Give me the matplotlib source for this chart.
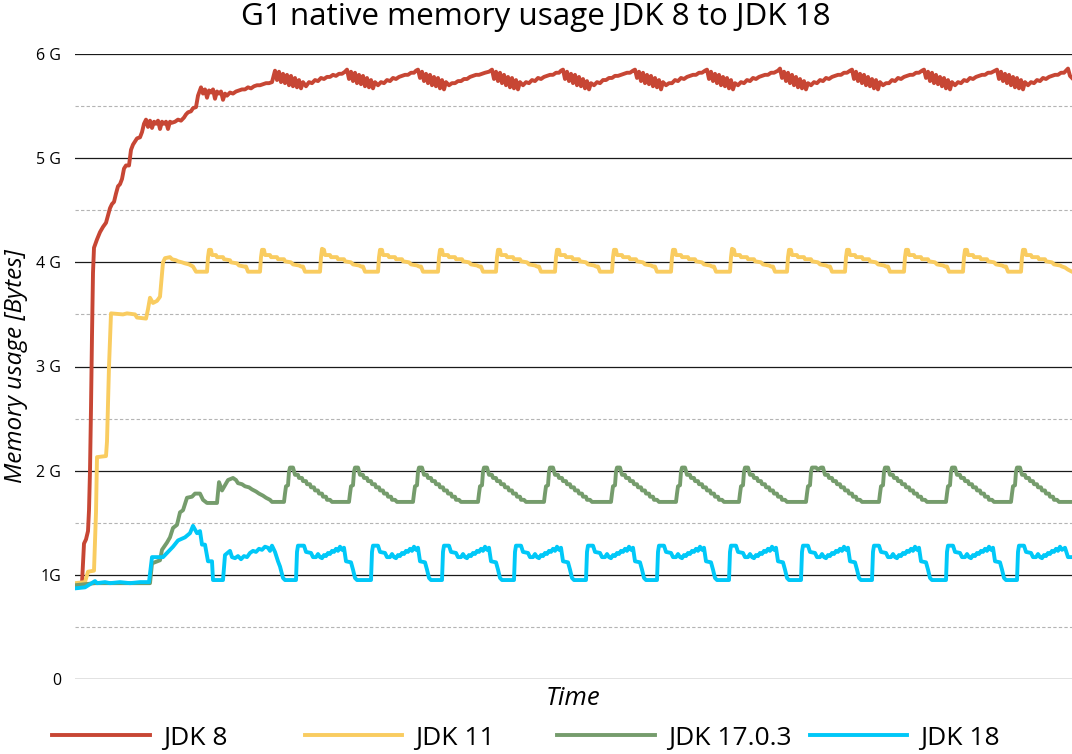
import matplotlib
matplotlib.use('Agg')
import numpy as np
import matplotlib.pyplot as plt
from matplotlib.ticker import MultipleLocator

plt.rcParams['font.family'] = ['Open Sans', 'DejaVu Sans']

# time axis is in arbitrary sample units, memory in GB
jdk8 = [
    (0, 0.91), (7, 0.92), (9, 1.30), (11, 1.34), (13, 1.42), (14, 1.62), (15, 2.00), (16, 2.60),
    (17, 3.30), (18, 3.90), (19, 4.14), (22, 4.22), (25, 4.29), (28, 4.34), (31, 4.38), (33, 4.45),
    (35, 4.52), (37, 4.56), (39, 4.58), (41, 4.66), (43, 4.73), (45, 4.75), (47, 4.80), (49, 4.90),
    (51, 4.93), (54, 4.93), (56, 5.08), (58, 5.13), (60, 5.16), (62, 5.19), (65, 5.20), (67, 5.25),
    (69, 5.33), (71, 5.37), (73, 5.30), (75, 5.36), (77, 5.29), (79, 5.35), (81, 5.33), (83, 5.36),
    (85, 5.28), (87, 5.35), (89, 5.33), (91, 5.35), (93, 5.28), (95, 5.35), (97, 5.34), (100, 5.35),
    (103, 5.37), (106, 5.36), (109, 5.39), (111, 5.42), (113, 5.44), (116, 5.45), (118, 5.48),
    (121, 5.49), (123, 5.60), (126, 5.68), (128, 5.62), (130, 5.66), (132, 5.58), (134, 5.65),
    (136, 5.63), (138, 5.66), (140, 5.57), (142, 5.64), (144, 5.62), (146, 5.64), (148, 5.56),
    (150, 5.62), (152, 5.60), (155, 5.63), (158, 5.62), (161, 5.64), (164, 5.65), (167, 5.66),
    (170, 5.66), (173, 5.68), (176, 5.67), (179, 5.69), (182, 5.70), (185, 5.70), (188, 5.71),
    (191, 5.72), (194, 5.72), (197, 5.73),
    (200, 5.84), (202, 5.75), (204, 5.83), (206, 5.73), (208, 5.81), (210, 5.72), (212, 5.80), (214, 5.70),
    (216, 5.79), (218, 5.69), (220, 5.77), (222, 5.68), (224, 5.75), (226, 5.67), (228, 5.73), (231, 5.69),
    (234, 5.73), (237, 5.72), (240, 5.75), (243, 5.74), (246, 5.77), (249, 5.76), (252, 5.78), (255, 5.78),
    (258, 5.80), (261, 5.79), (264, 5.81), (267, 5.81), (270, 5.83),
    (272, 5.85), (274, 5.76), (276, 5.83), (278, 5.74), (280, 5.82), (282, 5.72), (284, 5.80), (286, 5.71),
    (288, 5.79), (290, 5.69), (292, 5.77), (294, 5.68), (296, 5.75), (298, 5.67), (300, 5.73), (303, 5.70),
    (306, 5.73), (309, 5.72), (312, 5.75), (315, 5.74), (318, 5.77), (321, 5.76), (324, 5.78), (327, 5.79),
    (330, 5.80), (333, 5.80), (336, 5.82), (339, 5.82), (341, 5.84),
    (343, 5.85), (345, 5.77), (347, 5.83), (349, 5.74), (351, 5.81), (353, 5.72), (355, 5.80), (357, 5.70),
    (359, 5.78), (361, 5.69), (363, 5.77), (365, 5.67), (367, 5.75), (369, 5.66), (371, 5.73), (374, 5.70),
    (377, 5.72), (380, 5.72), (383, 5.74), (386, 5.74), (389, 5.76), (392, 5.76), (395, 5.78), (398, 5.79),
    (401, 5.80), (404, 5.80), (407, 5.81), (410, 5.82), (414, 5.83),
    (417, 5.85), (419, 5.76), (421, 5.83), (423, 5.74), (425, 5.82), (427, 5.72), (429, 5.80), (431, 5.70),
    (433, 5.78), (435, 5.68), (437, 5.77), (439, 5.67), (441, 5.75), (443, 5.66), (445, 5.73), (448, 5.70),
    (451, 5.73), (454, 5.72), (457, 5.75), (460, 5.74), (463, 5.77), (466, 5.76), (469, 5.78), (472, 5.79),
    (475, 5.80), (478, 5.80), (481, 5.82), (484, 5.82), (486, 5.84),
    (488, 5.85), (490, 5.76), (492, 5.83), (494, 5.74), (496, 5.81), (498, 5.72), (500, 5.80), (502, 5.70),
    (504, 5.78), (506, 5.69), (508, 5.76), (510, 5.67), (512, 5.74), (514, 5.66), (516, 5.72), (519, 5.70),
    (522, 5.73), (525, 5.72), (528, 5.75), (531, 5.75), (534, 5.77), (537, 5.77), (540, 5.79), (543, 5.79),
    (546, 5.80), (549, 5.81), (552, 5.82), (555, 5.82), (558, 5.84),
    (560, 5.85), (562, 5.77), (564, 5.83), (566, 5.74), (568, 5.82), (570, 5.72), (572, 5.80), (574, 5.71),
    (576, 5.79), (578, 5.69), (580, 5.77), (582, 5.68), (584, 5.75), (586, 5.66), (588, 5.73), (591, 5.70),
    (594, 5.72), (597, 5.72), (600, 5.75), (603, 5.74), (606, 5.77), (609, 5.76), (612, 5.78), (615, 5.79),
    (618, 5.80), (621, 5.80), (624, 5.82), (627, 5.82), (630, 5.84),
    (632, 5.85), (634, 5.76), (636, 5.83), (638, 5.74), (640, 5.81), (642, 5.72), (644, 5.80), (646, 5.70),
    (648, 5.78), (650, 5.69), (652, 5.77), (654, 5.67), (656, 5.75), (658, 5.66), (660, 5.72), (663, 5.70),
    (666, 5.73), (669, 5.72), (672, 5.75), (675, 5.74), (678, 5.77), (681, 5.76), (684, 5.78), (687, 5.79),
    (690, 5.80), (693, 5.80), (696, 5.82), (699, 5.82), (703, 5.84),
    (705, 5.86), (707, 5.77), (709, 5.83), (711, 5.74), (713, 5.82), (715, 5.72), (717, 5.80), (719, 5.70),
    (721, 5.78), (723, 5.68), (725, 5.76), (727, 5.67), (729, 5.74), (731, 5.66), (733, 5.72), (736, 5.70),
    (739, 5.73), (742, 5.72), (745, 5.75), (748, 5.74), (751, 5.77), (754, 5.76), (757, 5.78), (760, 5.79),
    (763, 5.80), (766, 5.80), (769, 5.82), (772, 5.82), (775, 5.84),
    (777, 5.85), (779, 5.76), (781, 5.83), (783, 5.74), (785, 5.81), (787, 5.72), (789, 5.80), (791, 5.70),
    (793, 5.78), (795, 5.69), (797, 5.76), (799, 5.67), (801, 5.75), (803, 5.66), (805, 5.73), (808, 5.70),
    (811, 5.72), (814, 5.72), (817, 5.75), (820, 5.74), (823, 5.77), (826, 5.76), (829, 5.78), (832, 5.79),
    (835, 5.80), (838, 5.80), (841, 5.82), (844, 5.82), (847, 5.84),
    (849, 5.85), (851, 5.77), (853, 5.83), (855, 5.74), (857, 5.82), (859, 5.72), (861, 5.80), (863, 5.71),
    (865, 5.78), (867, 5.69), (869, 5.77), (871, 5.67), (873, 5.75), (875, 5.66), (877, 5.73), (880, 5.70),
    (883, 5.73), (886, 5.72), (889, 5.75), (892, 5.74), (895, 5.77), (898, 5.76), (901, 5.78), (904, 5.79),
    (907, 5.80), (910, 5.80), (913, 5.82), (916, 5.82), (920, 5.84),
    (922, 5.85), (924, 5.76), (926, 5.83), (928, 5.74), (930, 5.81), (932, 5.72), (934, 5.80), (936, 5.70),
    (938, 5.78), (940, 5.68), (942, 5.77), (944, 5.67), (946, 5.75), (948, 5.66), (950, 5.73), (953, 5.70),
    (956, 5.73), (959, 5.72), (962, 5.75), (965, 5.74), (968, 5.77), (971, 5.76), (974, 5.78), (977, 5.79),
    (980, 5.80), (983, 5.80), (986, 5.82), (989, 5.82), (991, 5.84),
    (993, 5.86), (995, 5.79), (997, 5.77),
]

jdk11 = [
    (0, 0.92), (10, 0.93), (13, 1.03), (19, 1.04), (21, 1.60), (22, 2.13), (31, 2.14), (32, 2.28),
    (34, 3.00), (36, 3.51), (48, 3.50), (52, 3.51), (60, 3.50), (62, 3.47), (71, 3.46), (73, 3.55),
    (75, 3.66), (78, 3.61), (82, 3.63), (85, 3.67), (88, 4.00), (90, 4.04), (95, 4.05), (97, 4.03),
    (101, 4.02), (103, 4.01), (107, 4.00), (110, 3.99), (114, 3.98), (118, 3.96), (121, 3.91), (132, 3.91),
    (133, 4.05), (134, 4.12), (136, 4.12), (137, 4.07), (141, 4.07), (142, 4.05), (148, 4.05), (149, 4.03),
    (155, 4.02), (156, 4.00), (162, 3.99), (164, 3.97), (169, 3.96), (171, 3.96), (173, 3.91), (185, 3.91),
    (186, 4.05), (187, 4.12), (189, 4.12), (190, 4.07), (195, 4.07), (196, 4.05), (202, 4.05), (203, 4.03),
    (209, 4.03), (210, 4.01), (216, 4.00), (218, 3.98), (224, 3.97), (226, 3.96), (228, 3.96), (230, 3.91), (245, 3.91),
    (246, 4.05), (247, 4.13), (249, 4.12), (250, 4.07), (255, 4.07), (256, 4.05), (262, 4.05), (263, 4.03),
    (269, 4.03), (270, 4.01), (276, 4.00), (278, 3.98), (284, 3.97), (286, 3.96), (288, 3.96), (290, 3.91), (303, 3.91),
    (304, 4.05), (305, 4.12), (307, 4.12), (308, 4.07), (313, 4.07), (314, 4.05), (320, 4.05), (321, 4.03),
    (327, 4.03), (328, 4.01), (334, 4.00), (336, 3.98), (342, 3.97), (344, 3.96), (346, 3.96), (348, 3.91), (363, 3.91),
    (364, 4.05), (365, 4.12), (367, 4.12), (368, 4.07), (373, 4.07), (374, 4.05), (380, 4.05), (381, 4.03),
    (387, 4.03), (388, 4.01), (394, 4.00), (396, 3.98), (402, 3.97), (404, 3.96), (406, 3.96), (408, 3.91), (421, 3.91),
    (422, 4.05), (423, 4.12), (425, 4.12), (426, 4.07), (431, 4.07), (432, 4.05), (438, 4.05), (439, 4.03),
    (445, 4.03), (446, 4.01), (452, 4.00), (454, 3.98), (460, 3.97), (462, 3.96), (464, 3.96), (466, 3.91), (480, 3.91),
    (481, 4.05), (482, 4.12), (484, 4.12), (485, 4.07), (490, 4.07), (491, 4.05), (497, 4.05), (498, 4.03),
    (504, 4.03), (505, 4.01), (511, 4.00), (513, 3.98), (519, 3.97), (521, 3.96), (523, 3.96), (525, 3.91), (537, 3.91),
    (538, 4.05), (539, 4.12), (541, 4.12), (542, 4.07), (547, 4.07), (548, 4.05), (554, 4.05), (555, 4.03),
    (561, 4.03), (562, 4.01), (568, 4.00), (570, 3.98), (576, 3.97), (578, 3.96), (580, 3.96), (582, 3.91), (596, 3.91),
    (597, 4.05), (598, 4.12), (600, 4.12), (601, 4.07), (606, 4.07), (607, 4.05), (613, 4.05), (614, 4.03),
    (620, 4.03), (621, 4.01), (627, 4.00), (629, 3.98), (635, 3.97), (637, 3.96), (639, 3.96), (641, 3.91), (655, 3.91),
    (656, 4.05), (657, 4.13), (659, 4.12), (660, 4.07), (665, 4.07), (666, 4.05), (672, 4.05), (673, 4.03),
    (679, 4.03), (680, 4.01), (686, 4.00), (688, 3.98), (694, 3.97), (696, 3.96), (698, 3.96), (700, 3.91), (712, 3.91),
    (713, 4.05), (714, 4.12), (716, 4.12), (717, 4.07), (722, 4.07), (723, 4.05), (729, 4.05), (730, 4.03),
    (736, 4.03), (737, 4.01), (743, 4.00), (745, 3.98), (751, 3.97), (753, 3.96), (755, 3.96), (757, 3.91), (770, 3.91),
    (771, 4.05), (772, 4.12), (774, 4.12), (775, 4.07), (780, 4.07), (781, 4.05), (787, 4.05), (788, 4.03),
    (794, 4.03), (795, 4.01), (801, 4.00), (803, 3.98), (809, 3.97), (811, 3.96), (813, 3.96), (815, 3.91), (829, 3.91),
    (830, 4.05), (831, 4.12), (833, 4.12), (834, 4.07), (839, 4.07), (840, 4.05), (846, 4.05), (847, 4.03),
    (853, 4.03), (854, 4.01), (860, 4.00), (862, 3.98), (868, 3.97), (870, 3.96), (872, 3.96), (874, 3.91), (888, 3.91),
    (889, 4.05), (890, 4.12), (892, 4.12), (893, 4.07), (898, 4.07), (899, 4.05), (905, 4.05), (906, 4.03),
    (912, 4.03), (913, 4.01), (919, 4.00), (921, 3.98), (927, 3.97), (929, 3.96), (931, 3.96), (933, 3.91), (946, 3.91),
    (947, 4.05), (948, 4.12), (950, 4.12), (951, 4.07), (956, 4.07), (957, 4.05), (963, 4.05), (964, 4.03),
    (970, 4.03), (971, 4.01), (977, 4.00), (979, 3.98), (985, 3.97), (987, 3.96), (990, 3.95), (993, 3.93), (997, 3.91),
]

jdk17 = [
    (0, 0.90), (10, 0.91), (20, 0.92), (75, 0.92), (77, 1.11), (85, 1.14), (87, 1.24), (92, 1.31),
    (95, 1.36), (98, 1.45), (102, 1.48), (105, 1.60), (108, 1.62), (112, 1.74), (117, 1.75), (120, 1.78),
    (125, 1.78), (128, 1.72), (132, 1.69), (142, 1.69), (144, 1.89), (147, 1.81), (150, 1.86), (153, 1.91),
    (158, 1.93), (161, 1.91), (163, 1.88), (167, 1.87), (170, 1.85), (174, 1.84), (177, 1.82), (181, 1.80),
    (184, 1.78), (188, 1.76), (191, 1.74), (195, 1.72), (197, 1.70), (209, 1.70),
    (210, 1.78), (211, 1.85), (213, 1.86), (214, 1.99), (215, 2.03), (218, 2.03), (220, 1.96), (223, 1.96),
    (224, 1.93), (227, 1.93), (228, 1.90), (231, 1.90), (232, 1.87), (235, 1.87), (236, 1.84), (239, 1.84),
    (240, 1.81), (243, 1.81), (244, 1.78), (247, 1.78), (248, 1.75), (251, 1.75), (252, 1.72), (255, 1.72),
    (257, 1.70), (274, 1.70),
    (275, 1.78), (276, 1.85), (278, 1.86), (279, 1.99), (280, 2.03), (283, 2.03), (285, 1.96), (288, 1.96),
    (289, 1.93), (292, 1.93), (293, 1.90), (296, 1.90), (297, 1.87), (300, 1.87), (301, 1.84), (304, 1.84),
    (305, 1.81), (308, 1.81), (309, 1.78), (312, 1.78), (313, 1.75), (316, 1.75), (317, 1.72), (320, 1.72),
    (322, 1.70), (338, 1.70),
    (339, 1.78), (340, 1.85), (342, 1.86), (343, 1.99), (344, 2.03), (347, 2.03), (349, 1.96), (352, 1.96),
    (353, 1.93), (356, 1.93), (357, 1.90), (360, 1.90), (361, 1.87), (364, 1.87), (365, 1.84), (368, 1.84),
    (369, 1.81), (372, 1.81), (373, 1.78), (376, 1.78), (377, 1.75), (380, 1.75), (381, 1.72), (384, 1.72),
    (386, 1.70), (403, 1.70),
    (404, 1.78), (405, 1.85), (407, 1.86), (408, 1.99), (409, 2.03), (412, 2.03), (414, 1.96), (417, 1.96),
    (418, 1.93), (421, 1.93), (422, 1.90), (425, 1.90), (426, 1.87), (429, 1.87), (430, 1.84), (433, 1.84),
    (434, 1.81), (437, 1.81), (438, 1.78), (441, 1.78), (442, 1.75), (445, 1.75), (446, 1.72), (449, 1.72),
    (451, 1.70), (469, 1.70),
    (470, 1.78), (471, 1.85), (473, 1.86), (474, 1.99), (475, 2.03), (478, 2.03), (480, 1.96), (483, 1.96),
    (484, 1.93), (487, 1.93), (488, 1.90), (491, 1.90), (492, 1.87), (495, 1.87), (496, 1.84), (499, 1.84),
    (500, 1.81), (503, 1.81), (504, 1.78), (507, 1.78), (508, 1.75), (511, 1.75), (512, 1.72), (515, 1.72),
    (517, 1.70), (536, 1.70),
    (537, 1.78), (538, 1.85), (540, 1.86), (541, 1.99), (542, 2.03), (545, 2.03), (547, 1.96), (550, 1.96),
    (551, 1.93), (554, 1.93), (555, 1.90), (558, 1.90), (559, 1.87), (562, 1.87), (563, 1.84), (566, 1.84),
    (567, 1.81), (570, 1.81), (571, 1.78), (574, 1.78), (575, 1.75), (578, 1.75), (579, 1.72), (582, 1.72),
    (584, 1.70), (601, 1.70),
    (602, 1.78), (603, 1.85), (605, 1.86), (606, 1.99), (607, 2.03), (610, 2.03), (612, 1.96), (615, 1.96),
    (616, 1.93), (619, 1.93), (620, 1.90), (623, 1.90), (624, 1.87), (627, 1.87), (628, 1.84), (631, 1.84),
    (632, 1.81), (635, 1.81), (636, 1.78), (639, 1.78), (640, 1.75), (643, 1.75), (644, 1.72), (647, 1.72),
    (649, 1.70), (664, 1.70),
    (665, 1.78), (666, 1.85), (668, 1.86), (669, 1.99), (670, 2.03), (673, 2.03), (675, 1.96), (678, 1.96),
    (679, 1.93), (682, 1.93), (683, 1.90), (686, 1.90), (687, 1.87), (690, 1.87), (691, 1.84), (694, 1.84),
    (695, 1.81), (698, 1.81), (699, 1.78), (702, 1.78), (703, 1.75), (706, 1.75), (707, 1.72), (710, 1.72),
    (712, 1.70), (731, 1.70),
    (732, 1.78), (733, 1.85), (735, 1.86), (736, 1.99), (737, 2.03), (741, 2.03), (743, 2.01), (746, 2.03),
    (748, 2.03), (750, 1.96), (753, 1.96), (754, 1.93), (757, 1.93), (758, 1.90), (761, 1.90), (762, 1.87),
    (765, 1.87), (766, 1.84), (769, 1.84), (770, 1.81), (773, 1.81), (774, 1.78), (777, 1.78), (778, 1.75),
    (781, 1.75), (782, 1.72), (785, 1.72), (787, 1.70), (804, 1.70),
    (805, 1.78), (806, 1.85), (808, 1.86), (809, 1.99), (810, 2.03), (813, 2.03), (815, 1.96), (818, 1.96),
    (819, 1.93), (822, 1.93), (823, 1.90), (826, 1.90), (827, 1.87), (830, 1.87), (831, 1.84), (834, 1.84),
    (835, 1.81), (838, 1.81), (839, 1.78), (842, 1.78), (843, 1.75), (846, 1.75), (847, 1.72), (850, 1.72),
    (852, 1.70), (871, 1.70),
    (872, 1.78), (873, 1.85), (875, 1.86), (876, 1.99), (877, 2.03), (880, 2.03), (882, 1.96), (885, 1.96),
    (886, 1.93), (889, 1.93), (890, 1.90), (893, 1.90), (894, 1.87), (897, 1.87), (898, 1.84), (901, 1.84),
    (902, 1.81), (905, 1.81), (906, 1.78), (909, 1.78), (910, 1.75), (913, 1.75), (914, 1.72), (917, 1.72),
    (919, 1.70), (936, 1.70),
    (937, 1.78), (938, 1.85), (940, 1.86), (941, 1.99), (942, 2.03), (945, 2.03), (947, 1.96), (950, 1.96),
    (951, 1.93), (954, 1.93), (955, 1.90), (958, 1.90), (959, 1.87), (962, 1.87), (963, 1.84), (966, 1.84),
    (967, 1.81), (970, 1.81), (971, 1.78), (974, 1.78), (975, 1.75), (978, 1.75), (979, 1.72), (982, 1.72),
    (984, 1.70), (997, 1.70),
]

jdk18 = [
    (0, 0.87), (10, 0.88), (15, 0.91), (20, 0.94), (22, 0.92), (30, 0.93), (35, 0.92), (45, 0.93),
    (55, 0.92), (65, 0.93), (74, 0.93), (77, 1.17), (88, 1.17), (92, 1.21), (98, 1.27), (103, 1.33),
    (110, 1.36), (115, 1.40), (118, 1.47), (122, 1.40), (125, 1.42), (127, 1.29), (130, 1.29), (133, 1.13),
    (137, 1.13), (138, 0.95), (148, 0.95),
    (150, 1.19), (155, 1.23), (157, 1.17), (160, 1.16), (163, 1.18), (166, 1.15), (169, 1.18), (172, 1.17),
    (175, 1.21), (178, 1.23), (181, 1.22), (184, 1.25), (187, 1.24), (190, 1.27), (193, 1.26), (195, 1.23),
    (197, 1.28), (200, 1.22), (203, 1.13), (205, 1.08), (208, 0.97), (210, 0.95), (221, 0.95),
    (222, 1.22), (223, 1.28), (229, 1.28), (231, 1.22), (236, 1.21), (238, 1.17), (241, 1.17), (243, 1.20),
    (245, 1.17), (247, 1.16), (249, 1.19), (251, 1.18), (253, 1.21), (255, 1.20), (257, 1.23), (259, 1.22),
    (261, 1.25), (263, 1.23), (265, 1.27), (267, 1.24), (269, 1.26), (271, 1.13), (276, 1.12), (278, 1.05),
    (280, 0.97), (282, 0.95), (296, 0.95),
    (297, 1.22), (298, 1.28), (303, 1.28), (305, 1.22), (310, 1.21), (312, 1.17), (315, 1.17), (317, 1.20),
    (319, 1.17), (321, 1.16), (323, 1.19), (325, 1.18), (327, 1.21), (329, 1.20), (331, 1.23), (333, 1.22),
    (335, 1.25), (337, 1.23), (339, 1.27), (341, 1.24), (343, 1.26), (345, 1.13), (350, 1.12), (352, 1.05),
    (354, 0.97), (356, 0.95), (367, 0.95),
    (368, 1.22), (369, 1.28), (374, 1.28), (376, 1.22), (381, 1.21), (383, 1.17), (386, 1.17), (388, 1.20),
    (390, 1.17), (392, 1.16), (394, 1.19), (396, 1.18), (398, 1.21), (400, 1.20), (402, 1.23), (404, 1.22),
    (406, 1.25), (408, 1.23), (410, 1.27), (412, 1.24), (414, 1.26), (416, 1.13), (421, 1.12), (423, 1.05),
    (425, 0.97), (427, 0.95), (439, 0.95),
    (440, 1.22), (441, 1.28), (446, 1.28), (448, 1.22), (453, 1.21), (455, 1.17), (458, 1.17), (460, 1.20),
    (462, 1.17), (464, 1.16), (466, 1.19), (468, 1.18), (470, 1.21), (472, 1.20), (474, 1.23), (476, 1.22),
    (478, 1.25), (480, 1.23), (482, 1.27), (484, 1.24), (486, 1.26), (488, 1.13), (493, 1.12), (495, 1.05),
    (497, 0.97), (499, 0.95), (511, 0.95),
    (512, 1.22), (513, 1.28), (518, 1.28), (520, 1.22), (525, 1.21), (527, 1.17), (530, 1.17), (532, 1.20),
    (534, 1.17), (536, 1.16), (538, 1.19), (540, 1.18), (542, 1.21), (544, 1.20), (546, 1.23), (548, 1.22),
    (550, 1.25), (552, 1.23), (554, 1.27), (556, 1.24), (558, 1.26), (560, 1.13), (565, 1.12), (567, 1.05),
    (569, 0.97), (571, 0.95), (582, 0.95),
    (583, 1.22), (584, 1.28), (589, 1.28), (591, 1.22), (596, 1.21), (598, 1.17), (601, 1.17), (603, 1.20),
    (605, 1.17), (607, 1.16), (609, 1.19), (611, 1.18), (613, 1.21), (615, 1.20), (617, 1.23), (619, 1.22),
    (621, 1.25), (623, 1.23), (625, 1.27), (627, 1.24), (629, 1.26), (631, 1.13), (636, 1.12), (638, 1.05),
    (640, 0.97), (642, 0.95), (654, 0.95),
    (655, 1.22), (656, 1.28), (661, 1.28), (663, 1.22), (668, 1.21), (670, 1.17), (673, 1.17), (675, 1.20),
    (677, 1.17), (679, 1.16), (681, 1.19), (683, 1.18), (685, 1.21), (687, 1.20), (689, 1.23), (691, 1.22),
    (693, 1.25), (695, 1.23), (697, 1.27), (699, 1.24), (701, 1.26), (703, 1.13), (708, 1.12), (710, 1.05),
    (712, 0.97), (714, 0.95), (726, 0.95),
    (727, 1.22), (728, 1.28), (733, 1.28), (735, 1.22), (740, 1.21), (742, 1.17), (745, 1.17), (747, 1.20),
    (749, 1.17), (751, 1.16), (753, 1.19), (755, 1.18), (757, 1.21), (759, 1.20), (761, 1.23), (763, 1.22),
    (765, 1.25), (767, 1.23), (769, 1.27), (771, 1.24), (773, 1.26), (775, 1.13), (780, 1.12), (782, 1.05),
    (784, 0.97), (786, 0.95), (797, 0.95),
    (798, 1.22), (799, 1.28), (804, 1.28), (806, 1.22), (811, 1.21), (813, 1.17), (816, 1.17), (818, 1.20),
    (820, 1.17), (822, 1.16), (824, 1.19), (826, 1.18), (828, 1.21), (830, 1.20), (832, 1.23), (834, 1.22),
    (836, 1.25), (838, 1.23), (840, 1.27), (842, 1.24), (844, 1.26), (846, 1.13), (851, 1.12), (853, 1.05),
    (855, 0.97), (857, 0.95), (871, 0.95),
    (872, 1.22), (873, 1.28), (878, 1.28), (880, 1.22), (885, 1.21), (887, 1.17), (890, 1.17), (892, 1.20),
    (894, 1.17), (896, 1.16), (898, 1.19), (900, 1.18), (902, 1.21), (904, 1.20), (906, 1.23), (908, 1.22),
    (910, 1.25), (912, 1.23), (914, 1.27), (916, 1.24), (918, 1.26), (920, 1.13), (925, 1.12), (927, 1.05),
    (929, 0.97), (931, 0.95), (942, 0.95),
    (943, 1.22), (944, 1.28), (949, 1.28), (951, 1.22), (956, 1.21), (958, 1.17), (961, 1.17), (963, 1.20),
    (965, 1.17), (967, 1.16), (969, 1.19), (971, 1.18), (973, 1.21), (975, 1.20), (977, 1.23), (979, 1.22),
    (981, 1.25), (983, 1.23), (985, 1.27), (987, 1.24), (990, 1.26), (993, 1.17), (997, 1.17),
]

labels = ['JDK 8', 'JDK 11', 'JDK 17.0.3', 'JDK 18']
colors = ['#c74634', '#f9cc60', '#759c6c', '#00c8f8']
ytick_labels = ['0', '1G', '2 G', '3 G', '4 G', '5 G', '6 G']

fig = plt.figure(figsize=(10.72, 7.54), dpi=100)
ax = fig.add_axes([75 / 1072, 75 / 754, 997 / 1072, 625 / 754])

lines = []
for series, col, lab in zip([jdk8, jdk11, jdk17, jdk18], colors, labels):
    t, v = np.array(series).T
    ln, = ax.plot(t, v, color=col, lw=2.8, label=lab, solid_joinstyle='round', zorder=3)
    lines.append(ln)

ax.set_xlim(0, 997)
ax.set_ylim(0, 6)
ax.set_yticks(range(7))
ax.set_yticklabels(ytick_labels, fontsize=11.5)
ax.yaxis.set_minor_locator(MultipleLocator(0.5))
ax.tick_params(axis='y', which='both', length=0, pad=10)
ax.set_xticks([])
ax.grid(which='major', axis='y', color='#1a1a1a', lw=0.9, zorder=1)
ax.grid(which='minor', axis='y', color='#b4b4b4', lw=0.8, ls=(0, (3, 2)), zorder=1)
for s in ax.spines.values():
    s.set_visible(False)

ax.set_xlabel('Time', fontsize=18.5, style='italic', labelpad=5)
ax.set_ylabel('Memory usage [Bytes]', fontsize=17.5, style='italic', labelpad=6)
fig.suptitle('G1 native memory usage JDK 8 to JDK 18', fontsize=22.6, y=0.998, va='top')

# four evenly spaced legend slots along the bottom
for i, ln in enumerate(lines):
    fig.legend([ln], [ln.get_label()], loc='center left',
               bbox_to_anchor=((52 + 252.5 * i) / 1072, 16 / 754),
               frameon=False, fontsize=19, handlelength=3.7, handletextpad=0.5,
               borderpad=0, borderaxespad=0)

fig.savefig('out.png', dpi=100)
